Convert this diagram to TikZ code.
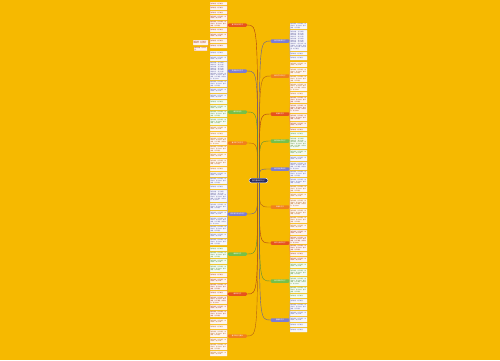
\documentclass[tikz,border=0pt]{standalone}
\usepackage{fontspec}
\newfontfamily\cjk{Noto Sans CJK SC}
\XeTeXlinebreaklocale "zh"
\XeTeXlinebreakskip=0pt plus 0.2pt
\definecolor{mapgold}{RGB}{246,185,0}
\definecolor{mapnavy}{RGB}{38,40,92}
\definecolor{mapred}{RGB}{230,82,30}
\definecolor{maporange}{RGB}{240,128,28}
\definecolor{mappurple}{RGB}{124,124,212}
\definecolor{mapgreen}{RGB}{118,192,72}
\usetikzlibrary{positioning}

% leaf text, #1 short sentences
\newcommand\leaftxt[1]{\foreach \j in {1,...,#1}{\ifodd\j 春风拂面，花开满园。\else 柳绿桃红，燕子归来。\fi}}
% column of leaves under one topic: name, colour, left x, first top, heights, topic side, leaf side
\newcommand\leaves[7]{%
  \def\ytop{#4}%
  \foreach \h [count=\i] in {#5}{%
    \pgfmathtruncatemacro\k{max(1,(\h-0.8)/1.7)}%
    \node[leaf=#2, minimum height=\h] (#1-\i) at (#3,\ytop) {\leaftxt{\k}};
    \draw[twig=#2] (#1.#6) -- (#1-\i.#7);
    \pgfmathsetmacro\ynext{\ytop+\h+1}\global\let\ytop\ynext
  }}

\begin{document}
\begin{tikzpicture}[x=1pt, y=-1pt,
    leaf/.style={draw=#1!45!white, fill=#1!7!white, line width=0.2pt,
                 rounded corners=0.3pt, anchor=north west, text width=16.2pt,
                 inner sep=0.4pt, align=left, text=#1!75!black,
                 font=\cjk\fontsize{1.35}{1.7}\selectfont},
    topic/.style={fill=#1, text=white, rounded corners=1.2pt, minimum width=19pt,
                  minimum height=3.5pt, inner sep=0.2pt,
                  font=\cjk\fontsize{1.6}{1.8}\selectfont},
    link/.style={draw=#1!75!black, line width=0.4pt},
    twig/.style={draw=#1!70!white, line width=0.2pt}]
  \fill[mapgold] (0,0) rectangle (500,360);

  \node[draw=white, line width=0.4pt, fill=mapnavy, text=white, rounded corners=2.3pt,
        minimum width=19pt, minimum height=4.6pt, inner sep=0.3pt,
        font=\cjk\fontsize{1.8}{2}\selectfont] (root) at (258.5,180.5) {描写春天的句子};

  % left topics
  \node[topic=mapred]    (L1) at (237.5,25)  {春天的优美句子};
  \node[topic=mappurple] (L2) at (237.5,71)  {赞美春天的句子};
  \node[topic=mapgreen]  (L3) at (237.5,112) {春天的短句};
  \node[topic=maporange] (L4) at (237.5,143) {春天来了的句子};
  \node[topic=mappurple] (L5) at (237.5,214) {描写春天景色的句子};
  \node[topic=mapgreen]  (L6) at (237.5,254) {春雨的句子};
  \node[topic=mapred]    (L7) at (237.5,294) {春风的句子};
  \node[topic=maporange] (L8) at (237.5,336) {春天的好句摘抄};

  % right topics
  \node[topic=mappurple] (R1) at (280,41)  {春天的唯美句子};
  \node[topic=maporange] (R2) at (280,76)  {春天花开的句子};
  \node[topic=mapred]    (R3) at (280,114) {初春的句子};
  \node[topic=mapgreen]  (R4) at (280,141) {春天树木的句子};
  \node[topic=mappurple] (R5) at (280,169) {春天的经典语句};
  \node[topic=maporange] (R6) at (280,207) {早春的句子};
  \node[topic=mapred]    (R7) at (280,243) {春天心情的句子};
  \node[topic=mapgreen]  (R8) at (280,281) {春天田野的句子};
  \node[topic=mappurple] (R9) at (280,320) {暮春的句子};

  % links from the root
  \foreach \t/\c/\a in {L1/mapred/north, L2/mappurple/north, L3/mapgreen/north,
                        L4/maporange/north, L5/mappurple/south, L6/mapgreen/south,
                        L7/mapred/south, L8/maporange/south}
    \draw[link=\c] ([xshift=-0.8pt]root.\a) .. controls ([xshift=-0.8pt]root.\a |- \t.east) .. (\t.east);
  \foreach \t/\c/\a in {R1/mappurple/north, R2/maporange/north, R3/mapred/north,
                        R4/mapgreen/north, R5/mappurple/north, R6/maporange/south,
                        R7/mapred/south, R8/mapgreen/south, R9/mappurple/south}
    \draw[link=\c] ([xshift=0.8pt]root.\a) .. controls ([xshift=0.8pt]root.\a |- \t.west) .. (\t.west);

  % leaves
  \leaves{L1}{mapred}{210}{2}{3,4,3,5,6,4,5,4,4}{west}{east}
  \leaves{L2}{mappurple}{210}{51}{4,5,18,6,5,5}{west}{east}
  \leaves{L3}{mapgreen}{210}{100}{4,5,6,7}{west}{east}
  \leaves{L4}{maporange}{210}{126}{5,4,8,6,5,7,4}{west}{east}
  \leaves{L5}{mappurple}{210}{172}{5,6,4,12,7,5,8,6,5,6}{west}{east}
  \leaves{L6}{mapgreen}{210}{247}{4,6,5,7}{west}{east}
  \leaves{L7}{mapred}{210}{273}{4,5,6,4,8,5,6}{west}{east}
  \leaves{L8}{maporange}{210}{319}{5,4,7,5,6,5}{west}{east}

  \leaves{R1}{mappurple}{290}{23}{6,21,3,4}{east}{west}
  \leaves{R2}{maporange}{290}{62}{5,7,6,8,4}{east}{west}
  \leaves{R3}{mapred}{290}{97}{6,9,7,5,3}{east}{west}
  \leaves{R4}{mapgreen}{290}{132}{4,12,5}{east}{west}
  \leaves{R5}{mappurple}{290}{156}{5,8,6,7}{east}{west}
  \leaves{R6}{maporange}{290}{186}{6,5,9,7,6,5}{east}{west}
  \leaves{R7}{mapred}{290}{230}{5,8,6,4,5}{east}{west}
  \leaves{R8}{mapgreen}{290}{263}{5,7,9,6,4}{east}{west}
  \leaves{R9}{mappurple}{290}{299}{4,6,5,5,4,4}{east}{west}

  % side notes off one leaf
  \node[leaf=mapred, text width=14.2pt, minimum height=5] (N1) at (193,40) {\leaftxt{2}};
  \node[leaf=mapred, text width=12.2pt, minimum height=3] (N2) at (194,47) {\leaftxt{1}};
  \draw[twig=mapred] (L1-8.west) -- (N1.east);
  \draw[twig=mapred] (L1-8.west) -- (N2.east);
\end{tikzpicture}
\end{document}
